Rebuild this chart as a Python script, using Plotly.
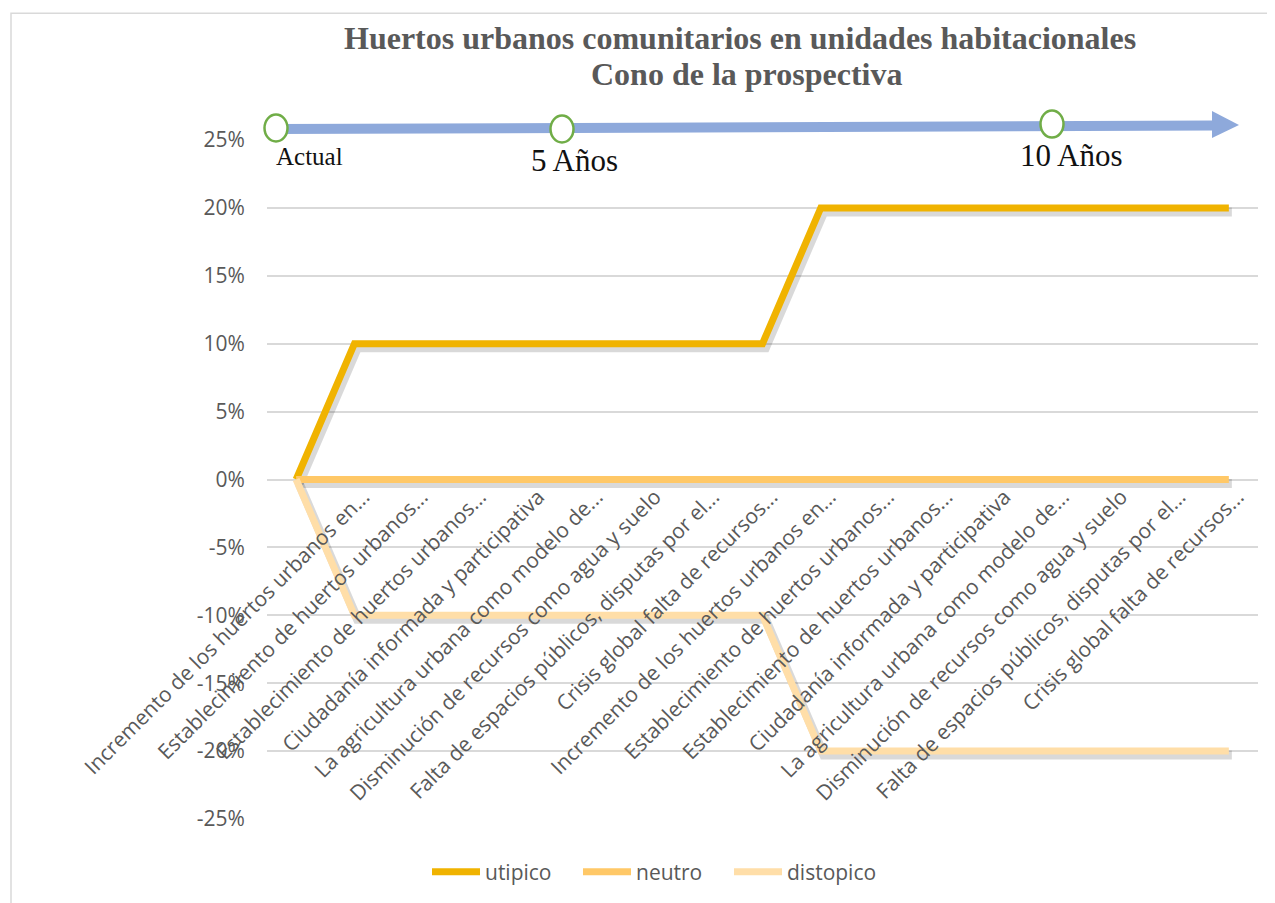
import plotly.graph_objects as go

# ---------------- data ----------------
x_idx = list(range(17))
label_text = [
    "Incremento de los huertos urbanos en...",
    "Establecimiento de huertos urbanos...",
    "Establecimiento de huertos urbanos...",
    "Ciudadanía informada y participativa",
    "La agricultura urbana como modelo de...",
    "Disminución de recursos como agua y suelo",
    "Falta de espacios públicos, disputas por el...",
    "Crisis global falta de recursos...",
]
tick_positions = list(range(1, 17))
tick_labels = label_text + label_text

utipico = [0, 10, 10, 10, 10, 10, 10, 10, 10, 20, 20, 20, 20, 20, 20, 20, 20]
neutro = [0] * 17
distopico = [0, -10, -10, -10, -10, -10, -10, -10, -10, -20, -20, -20, -20, -20, -20, -20, -20]

y_ticks = [25, 20, 15, 10, 5, 0, -5, -10, -15, -20, -25]
y_tick_text = [f"{v}%" for v in y_ticks]

timeline_labels = ["Actual", "5 Años", "10 Años"]

# ---------------- layout geometry ----------------
OFF = 8  # page offset of the figure
W, H = 1267, 895
ML, MR, MT, MB = 259, 17, 132, 83
PW, PH = W - ML - MR, H - MT - MB
X_RANGE = [-0.5, 16.5]
Y_RANGE = [-25, 25]


def px(xp):
    return (xp - OFF - ML) / PW


def py(yp):
    return (OFF + H - MB - yp) / PH


GRAY = "#595959"
colors = {"utipico": "#F0B300", "neutro": "#FFC867", "distopico": "#FFDEA8"}
series = [("utipico", utipico), ("neutro", neutro), ("distopico", distopico)]

# shadow offsets in pixels -> data units
sdx = 3 / (PW / (X_RANGE[1] - X_RANGE[0]))
sdy = 4 / (PH / (Y_RANGE[1] - Y_RANGE[0]))

fig = go.Figure()
# invisible trace that carries the visible axes (ticks / grid)
fig.add_trace(go.Scatter(x=x_idx, y=neutro, mode="lines", showlegend=False,
                         line=dict(color="rgba(0,0,0,0)", width=0), hoverinfo="skip",
                         xaxis="x", yaxis="y"))
for name, vals in series:
    fig.add_trace(go.Scatter(
        x=x_idx, y=vals, mode="lines", name=name + " sombra", showlegend=False,
        line=dict(color="rgba(0,0,0,0.15)", width=9),
        xaxis="x2", yaxis="y2", hoverinfo="skip",
    ))
for name, vals in series:
    fig.add_trace(go.Scatter(
        x=x_idx, y=vals, mode="lines", name=name,
        line=dict(color=colors[name], width=7),
        xaxis="x3", yaxis="y3", hoverinfo="skip",
    ))

shapes = []
shapes.append(dict(type="rect", xref="paper", yref="paper",
                   x0=px(11), x1=px(1295), y0=py(920), y1=py(13),
                   line=dict(color="#D9D9D9", width=1.5), fillcolor="rgba(0,0,0,0)", layer="below"))
shapes.append(dict(type="line", xref="paper", yref="paper",
                   x0=px(276), y0=py(129), x1=px(1214), y1=py(125.5),
                   line=dict(color="#8EA9DB", width=10)))
shapes.append(dict(type="path", xref="paper", yref="paper",
                   path=f"M {px(1212)},{py(111)} L {px(1239)},{py(125)} L {px(1212)},{py(138)} Z",
                   fillcolor="#8EA9DB", line=dict(color="#8EA9DB", width=0)))
for cx, cy in [(276, 128), (562, 129), (1052, 124)]:
    shapes.append(dict(type="circle", xref="paper", yref="paper",
                       xsizemode="pixel", ysizemode="pixel",
                       xanchor=px(cx), yanchor=py(cy),
                       x0=-11.5, x1=11.5, y0=-13.5, y1=13.5,
                       fillcolor="white", line=dict(color="#70AD47", width=2.5)))

title_font = dict(family="Liberation Serif", size=32, color=GRAY)
annotations = [
    dict(text="<b>Huertos urbanos comunitarios en unidades habitacionales</b>",
         xref="paper", yref="paper", x=px(740), y=py(38), xanchor="center", yanchor="middle",
         showarrow=False, font=title_font),
    dict(text="<b>Cono de la prospectiva</b>",
         xref="paper", yref="paper", x=px(746), y=py(74), xanchor="center", yanchor="middle",
         showarrow=False, font=title_font),
]
for txt, cx, cy, sz in zip(timeline_labels, [309, 574, 1071], [157, 161, 156], [25, 31, 31]):
    annotations.append(dict(text=txt, xref="paper", yref="paper", x=px(cx), y=py(cy),
                            xanchor="center", yanchor="middle", showarrow=False,
                            font=dict(family="Liberation Serif", size=sz, color="#111111")))

hidden = dict(showgrid=False, zeroline=False, showline=False, showticklabels=False, ticks="",
              automargin=False)

fig.update_layout(
    width=W, height=H,
    margin=dict(l=ML, r=MR, t=MT, b=MB),
    paper_bgcolor="white", plot_bgcolor="white",
    showlegend=True,
    legend=dict(orientation="h", x=px(427), y=py(872), xanchor="left", yanchor="middle",
                font=dict(family="Open Sans", size=21, color=GRAY),
                itemwidth=48, entrywidth=88, entrywidthmode="pixels", itemclick=False),
    shapes=shapes, annotations=annotations,
    xaxis=dict(range=X_RANGE, tickmode="array", tickvals=tick_positions, ticktext=tick_labels,
               tickangle=-45, showgrid=False, zeroline=False, showline=False,
               anchor="free", position=0.5, automargin=False, ticklabelshift=9,
               tickfont=dict(family="Open Sans", size=21, color=GRAY)),
    yaxis=dict(range=Y_RANGE, tickmode="array", tickvals=y_ticks, ticktext=y_tick_text,
               showgrid=True, gridcolor="#D9D9D9", gridwidth=1.5, zeroline=False, showline=False,
               ticks="outside", ticklen=17, tickcolor="rgba(0,0,0,0)", automargin=False,
               tickfont=dict(family="Open Sans", size=21, color=GRAY)),
    xaxis2=dict(range=[X_RANGE[0] - sdx, X_RANGE[1] - sdx], overlaying="x", anchor="y2", **hidden),
    yaxis2=dict(range=[Y_RANGE[0] + sdy, Y_RANGE[1] + sdy], overlaying="y", anchor="x2", **hidden),
    xaxis3=dict(range=X_RANGE, overlaying="x", anchor="y3", **hidden),
    yaxis3=dict(range=Y_RANGE, overlaying="y", anchor="x3", **hidden),
)

fig.write_html("out.html")
